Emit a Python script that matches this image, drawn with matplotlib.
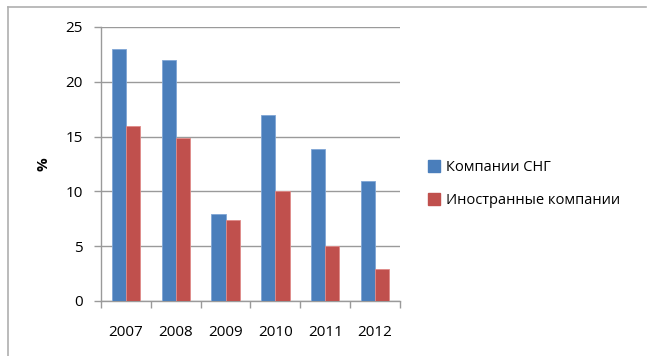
import numpy as np
import matplotlib.pyplot as plt
from matplotlib.lines import Line2D

years = ["2007", "2008", "2009", "2010", "2011", "2012"]
cis_companies = [23, 22, 7.9, 17, 13.9, 10.95]
foreign_companies = [16, 14.9, 7.4, 10, 5, 2.9]
series_names = ["Компании СНГ", "Иностранные компании"]

blue = "#4A7EBB"
red = "#C0504D"
grey = "#9A9A9A"

plt.rcParams["font.family"] = ["Open Sans", "DejaVu Sans"]

fig = plt.figure(figsize=(6.47, 3.56), dpi=100)
ax = fig.add_axes([101 / 647, 1 - 301 / 356, 299 / 647, 274 / 356])

x = np.arange(len(years))
w = 1 / 3.5
ax.bar(x - w / 2, cis_companies, w, color=blue, edgecolor="#7FA6D6", linewidth=0.6, zorder=3)
ax.bar(x + w / 2, foreign_companies, w, color=red, edgecolor="#E08A88", linewidth=0.6, zorder=3)

ax.set_xlim(-0.5, len(years) - 0.5)
ax.set_ylim(0, 25)
ax.set_yticks(range(0, 26, 5))
ax.yaxis.grid(True, color=grey, linewidth=1.0, zorder=0)

# category labels sit between the boundary ticks
ax.set_xticks(np.arange(-0.5, len(years)), minor=False)
ax.set_xticklabels([])
ax.set_xticks(x, minor=True)
ax.set_xticklabels(years, minor=True, fontsize=11)
ax.tick_params(axis="x", which="major", direction="out", length=5, color=grey, width=1)
ax.tick_params(axis="x", which="minor", length=0, pad=17)
ax.tick_params(axis="y", direction="out", length=5, color=grey, width=1, labelsize=11, pad=8)

for s in ["top", "right"]:
    ax.spines[s].set_visible(False)
for s in ["left", "bottom"]:
    ax.spines[s].set_color(grey)
    ax.spines[s].set_linewidth(1.0)

ax.set_ylabel("%", fontsize=11, fontweight="bold", labelpad=11)

handles = [Line2D([], [], marker="s", linestyle="none", markersize=8,
                  markerfacecolor=c, markeredgecolor=c) for c in (blue, red)]
fig.legend(handles, series_names, loc="center left",
           bbox_to_anchor=(414 / 647, 1 - 184 / 356), frameon=False,
           fontsize=10.5, handletextpad=0.3, labelspacing=1.2, handlelength=1.0)

# chart area border (top and left edges)
fig.add_artist(Line2D([8 / 647, 8 / 647], [0, 1 - 7 / 356], color="#AFAFAF", linewidth=1.2))
fig.add_artist(Line2D([8 / 647, 646 / 647], [1 - 7 / 356, 1 - 7 / 356], color="#AFAFAF", linewidth=1.2))

fig.savefig("out.png", dpi=100)
